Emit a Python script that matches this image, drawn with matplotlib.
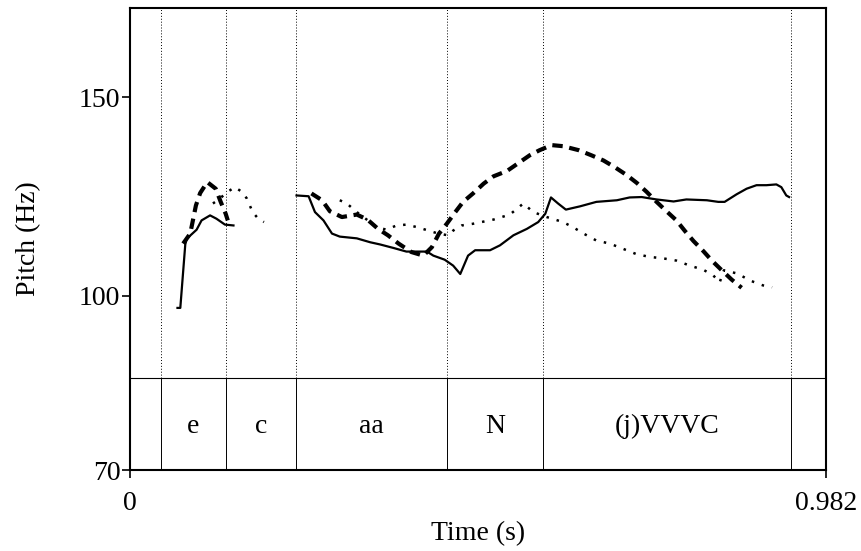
import matplotlib
matplotlib.use("Agg")
import matplotlib.pyplot as plt
from matplotlib.ticker import NullLocator

plt.rcParams["font.family"] = ["Liberation Serif", "DejaVu Serif"]

# pitch contours (time in s, pitch in Hz)
solid1_t = [0.067, 0.071, 0.078, 0.080, 0.094, 0.101, 0.113, 0.122, 0.134, 0.146]
solid1_f = [97.5, 97.5, 111.0, 112.3, 114.4, 116.6, 117.8, 117.0, 115.6, 115.4]

solid2_t = [0.235, 0.252, 0.261, 0.273, 0.285, 0.296, 0.320, 0.339, 0.353, 0.372,
            0.390, 0.419, 0.428, 0.444, 0.456, 0.466, 0.477, 0.487, 0.508, 0.522,
            0.541, 0.560, 0.576, 0.586, 0.594, 0.604, 0.615, 0.635, 0.658, 0.687,
            0.705, 0.722, 0.743, 0.767, 0.785, 0.814, 0.830, 0.839, 0.856, 0.870,
            0.884, 0.898, 0.912, 0.919, 0.926, 0.930]
solid2_f = [122.7, 122.5, 118.6, 116.6, 113.5, 112.8, 112.4, 111.5, 111.0, 110.2,
            109.4, 109.4, 108.5, 107.6, 106.3, 104.5, 108.5, 109.7, 109.7, 110.8,
            113.1, 114.6, 116.2, 118.2, 122.2, 120.7, 119.2, 120.0, 121.1, 121.5,
            122.2, 122.3, 121.7, 121.2, 121.7, 121.5, 121.1, 121.1, 123.0, 124.4,
            125.3, 125.3, 125.5, 124.8, 122.7, 122.3]

dashed1_t = [0.075, 0.085, 0.093, 0.099, 0.109, 0.121, 0.128, 0.135, 0.138]
dashed1_f = [111.2, 113.5, 120.2, 123.3, 126.1, 124.4, 121.1, 118.2, 116.6]

dashed2_t = [0.256, 0.271, 0.282, 0.299, 0.320, 0.335, 0.350, 0.364, 0.379, 0.397,
             0.414, 0.426, 0.436, 0.447, 0.459, 0.470, 0.484, 0.499, 0.513, 0.532,
             0.564, 0.578, 0.595, 0.611, 0.633, 0.651, 0.668, 0.684, 0.701, 0.715,
             0.729, 0.743, 0.757, 0.771, 0.783, 0.795, 0.809, 0.821, 0.835, 0.849,
             0.863]
dashed2_f = [123.2, 121.5, 118.8, 117.4, 118.0, 116.8, 114.6, 113.1, 111.2, 109.3,
             108.5, 110.4, 113.5, 115.8, 118.6, 121.1, 123.2, 125.7, 127.6, 129.0,
             133.2, 134.6, 136.0, 135.7, 134.6, 133.2, 131.8, 130.0, 127.9, 125.9,
             123.6, 121.1, 118.8, 116.6, 114.1, 111.8, 109.5, 107.4, 105.3, 103.3,
             101.6]

dotted1_t = [0.117, 0.127, 0.135, 0.148, 0.158, 0.165, 0.173, 0.181, 0.189]
dotted1_f = [120.7, 121.9, 123.3, 124.8, 123.6, 121.9, 118.6, 117.0, 116.2]

dotted2_t = [0.296, 0.306, 0.320, 0.334, 0.348, 0.362, 0.376, 0.390, 0.405, 0.421,
             0.435, 0.449, 0.456, 0.468, 0.484, 0.513, 0.536, 0.555, 0.569, 0.588,
             0.611, 0.625, 0.640, 0.658, 0.677, 0.696, 0.715, 0.734, 0.752, 0.771,
             0.790, 0.809, 0.823, 0.832, 0.838, 0.857, 0.875, 0.893, 0.906]
dotted2_f = [121.5, 120.7, 118.6, 116.8, 115.0, 114.4, 115.4, 115.6, 115.0, 114.2,
             113.5, 113.1, 114.2, 115.4, 115.8, 116.8, 118.0, 120.7, 118.6, 117.4,
             116.2, 115.0, 113.5, 111.9, 111.2, 110.0, 108.8, 108.2, 107.9, 107.4,
             106.3, 105.4, 104.2, 102.7, 105.3, 104.6, 103.1, 102.1, 101.7]

# text tier
boundaries = [0.0437, 0.1354, 0.2342, 0.4472, 0.5827, 0.9326]
labels = ["e", "c", "aa", "N", "(j)VVVC"]

t_end = 0.982
f_min, f_max = 70, 180
y_ticks = [70, 100, 150]
tier_top = 0.199  # axes fraction

fig = plt.figure(figsize=(8.62, 5.51), dpi=100)
ax = fig.add_axes([0.1508, 0.147, 0.8074, 0.8385])

dash = (0, (2.5, 1.6))
dots = (0, (1.0, 3.2))
ax.plot(solid1_t, solid1_f, color="black", lw=1.6, ls="-")
ax.plot(solid2_t, solid2_f, color="black", lw=1.6, ls="-")
ax.plot(dashed1_t, dashed1_f, color="black", lw=3.0, ls=dash)
ax.plot(dashed2_t, dashed2_f, color="black", lw=3.0, ls=dash)
ax.plot(dotted1_t, dotted1_f, color="black", lw=1.8, ls=dots)
ax.plot(dotted2_t, dotted2_f, color="black", lw=1.8, ls=dots)

for b in boundaries:
    ax.axvline(b, ymin=tier_top, ymax=1, color="black", lw=0.7, ls=(0, (1, 2)))
    ax.axvline(b, ymin=0, ymax=tier_top, color="black", lw=0.7)
ax.plot([0, 1], [tier_top, tier_top], transform=ax.transAxes, color="black", lw=0.8)

trans = ax.get_xaxis_transform()
for i, lab in enumerate(labels):
    mid = (boundaries[i] + boundaries[i + 1]) / 2
    ax.text(mid, tier_top / 2 - 0.005, lab, transform=trans,
            ha="center", va="center", fontsize=20)

ax.set_xlim(0, t_end)
ax.set_yscale("log")
ax.set_ylim(f_min, f_max)
ax.set_yticks(y_ticks)
ax.set_yticklabels([str(v) for v in y_ticks])
ax.yaxis.set_minor_locator(NullLocator())
ax.set_xticks([0, t_end])
ax.set_xticklabels(["0", "0.982"])

for s in ax.spines.values():
    s.set_linewidth(1.5)
ax.tick_params(axis="both", labelsize=20, length=6, width=1.2, direction="out")
ax.tick_params(axis="y", pad=1)
ax.tick_params(axis="x", pad=9)

ax.set_xlabel("Time (s)", fontsize=20, labelpad=4)
ax.set_ylabel("Pitch (Hz)", fontsize=20, labelpad=27)

fig.savefig("out.png", dpi=100)
